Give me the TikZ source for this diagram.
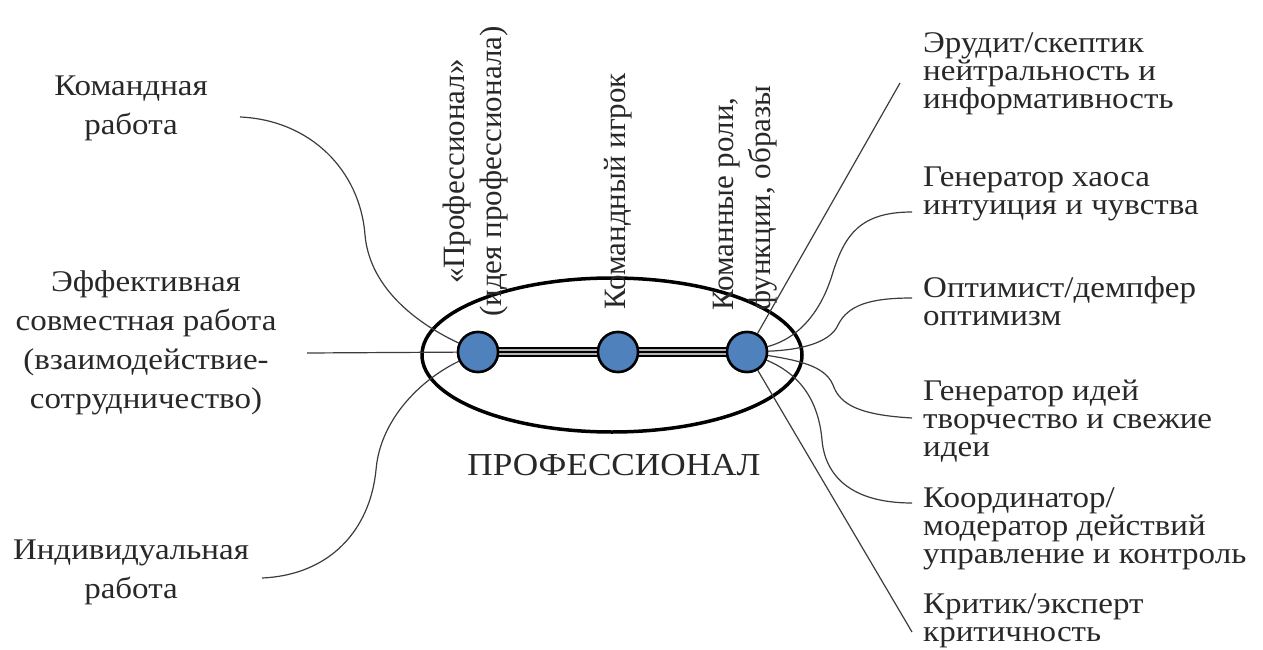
\documentclass[tikz,border=0pt]{standalone}
\usepackage{fontspec}
\usetikzlibrary{shapes.geometric}
\setmainfont{Liberation Serif}
\newfontfamily\deco[FakeStretch=1.1]{Liberation Serif}
\definecolor{nodeblue}{RGB}{79,129,189}
\definecolor{linegray}{RGB}{60,60,60}
\definecolor{txt}{RGB}{40,40,40}
\begin{document}
\begin{tikzpicture}[x=1pt,y=-1pt,
  dot/.style={circle,draw=black,line width=2.5pt,fill=nodeblue,minimum size=40pt,inner sep=0pt},
  lefttext/.style={align=center,inner sep=0pt,text=txt,font=\deco\fontsize{30}{39}\selectfont},
  righttext/.style={align=left,anchor=west,inner sep=0pt,text=txt,font=\deco\fontsize{30}{28}\selectfont},
  vtext/.style={rotate=90,anchor=west,inner sep=0pt,text=txt,font=\fontsize{31}{37}\selectfont},
  conn/.style={draw=linegray,line width=1.2pt},
  barout/.style={line width=10pt,draw=black},
  barmid/.style={line width=6.5pt,draw=gray!60},
  barin/.style={line width=2pt,draw=black}]
\useasboundingbox (0,0) rectangle (1263,650);

% ellipse
\node (ell) [ellipse,draw=black,line width=3.5pt,minimum width=380pt,minimum height=154pt,inner sep=0pt] at (612,355) {};

% circles (positioned first so connectors can use them)
\path (478,352) node[dot] (c1) {};
\path (618,352) node[dot] (c2) {};
\path (747,352) node[dot] (c3) {};

% left texts
\node[lefttext] (l1) at (131,108) {Командная\\работа};
\node[lefttext] (l2) at (146,343) {Эффективная\\совместная работа\\(взаимодействие-\\сотрудничество)};
\node[lefttext] (l3) at (131,572) {Индивидуальная\\работа};

% right texts
\node[righttext] (r1) at (923,74) {Эрудит/скептик\\нейтральность и\\информативность};
\node[righttext] (r2) at (923,194) {Генератор хаоса\\интуиция и чувства};
\node[righttext] (r3) at (923,301) {Оптимист/демпфер\\оптимизм};
\node[righttext] (r4) at (923,421) {Генератор идей\\творчество и свежие\\идеи};
\node[righttext] (r5) at (923,529) {Координатор/\\модератор действий\\управление и контроль};
\node[righttext] (r6) at (923,621) {Критик/эксперт\\критичность};

% vertical texts
\node[vtext,align=center] (v1) at (476,317) {«Профессионал»\\(идея профессионала)};
\node[vtext] (v2) at (618,310) {Командный игрок};
\node[vtext,align=left] (v3) at (745,311) {Команные роли,\\функции, образы};

% bottom label
\node[font=\deco\fontsize{32}{36}\selectfont,text=txt,inner sep=0pt] (prof) at (614,465) {ПРОФЕССИОНАЛ};

% free ends of connectors
\coordinate (a1) at (240,117);
\coordinate (a2) at (307,353);
\coordinate (a3) at (262,578);
\coordinate (b1) at (900,83);
\coordinate (b2) at (912,212);
\coordinate (b3) at (912,298);
\coordinate (b4) at (912,418);
\coordinate (b5) at (912,503);
\coordinate (b6) at (912,632);

% left connectors
\draw[conn] (a1) .. controls (310,120) and (360,170) .. (365,235)
                 .. controls (370,290) and (420,325) .. (c1);
\draw[conn] (a2) -- (c1);
\draw[conn] (a3) .. controls (330,575) and (370,530) .. (376,470)
                 .. controls (380,420) and (420,380) .. (c1);

% right connectors
\draw[conn] (b1) -- (c3);
\draw[conn] (b2) .. controls (860,212) and (845,235) .. (833,272)
                 .. controls (822,310) and (800,338) .. (c3);
\draw[conn] (b3) .. controls (870,298) and (848,305) .. (838,325)
                 .. controls (830,343) and (800,350) .. (c3);
\draw[conn] (b4) .. controls (860,415) and (840,405) .. (833,385)
                 .. controls (825,365) and (795,360) .. (c3);
\draw[conn] (b5) .. controls (850,503) and (825,475) .. (822,440)
                 .. controls (818,395) and (795,372) .. (c3);
\draw[conn] (b6) -- (c3);

% bars between circles
\foreach \s/\t in {c1/c2,c2/c3}{
  \draw[barout] (\s) -- (\t);
  \draw[barmid] (\s) -- (\t);
  \draw[barin] (\s) -- (\t);
}

% redraw circles on top
\path (478,352) node[dot] {};
\path (618,352) node[dot] {};
\path (747,352) node[dot] {};
\end{tikzpicture}
\end{document}
